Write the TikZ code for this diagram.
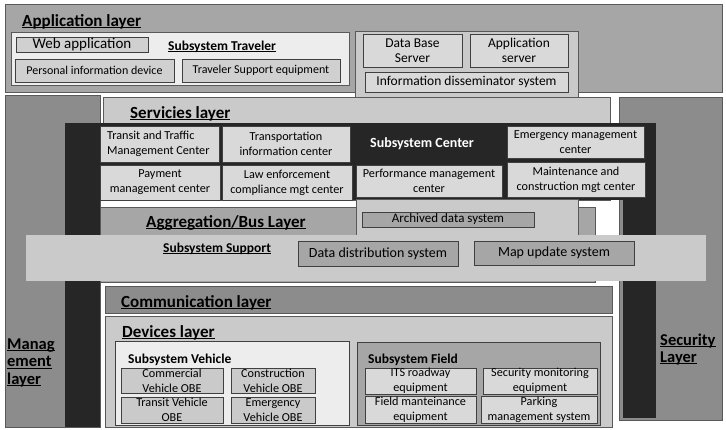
\documentclass[tikz,border=0pt]{standalone}
\usepackage{fontspec}
\setmainfont{Carlito}
\definecolor{gA}{HTML}{A6A6A6}
\definecolor{gM}{HTML}{8C8C8C}
\definecolor{gL}{HTML}{CACACA}
\definecolor{gB}{HTML}{D9D9D9}
\definecolor{gC}{HTML}{D0D0D0}
\definecolor{gW}{HTML}{EDEDED}
\definecolor{gK}{HTML}{262626}
\definecolor{lnA}{HTML}{595959}
\definecolor{lnB}{HTML}{404040}
\newcommand\bx[6]{\node[rbox,#6,anchor=north west,minimum width={#4-#2},minimum height={#5-#3}] (#1) at (#2,#3) {};}
\newcommand\lbl[3]{\node[txt,#2] (#1-t) at (#1.center) {#3};}
\newcommand\ulx[1]{\setbox0\hbox{#1}\rlap{\rule[-0.13em]{\wd0}{0.065em}}\box0}
\begin{document}
\begin{tikzpicture}[x=1pt,y=-1pt,
  rbox/.style={inner sep=0pt,outer sep=0pt,line width=0.7pt},
  txt/.style={inner sep=0pt,align=center,font=\fontsize{12.2}{15}\selectfont},
  ttl/.style={inner sep=0pt,anchor=base west,font=\fontsize{17}{20}\selectfont\bfseries},
  sttl/.style={inner sep=0pt,anchor=base west,font=\fontsize{13.5}{16}\selectfont\bfseries},
  sidettl/.style={inner sep=0pt,anchor=base west,font=\fontsize{16.5}{18}\selectfont\bfseries},
  ibox/.style={fill=gB,draw=lnB},
  obe/.style={fill=gL,draw=lnB}]
\useasboundingbox (0,0) rectangle (726,429);
\fill[white] (0,0) rectangle (726,429);
% Application layer
\bx{app}{5}{4}{722}{92}{fill=gA,draw=lnA}
\node[ttl] (appT) at (22,26) {\ulx{Application layer}};
\bx{trav}{11}{32}{349}{85}{fill=gW,draw=lnA}
\bx{web}{16}{37}{148}{52}{fill=gC,draw=lnB}
\lbl{web}{font=\fontsize{15}{18}\selectfont}{Web application}
\node[sttl] (travT) at (168,50) {\ulx{Subsystem Traveler}};
\bx{pid}{15}{59}{174}{82}{fill=gC,draw=lnB}
\lbl{pid}{font=\fontsize{12}{14}\selectfont}{Personal information device}
\bx{tse}{182}{59}{340}{82}{fill=gC,draw=lnB}
\lbl{tse}{font=\fontsize{12}{14}\selectfont}{Traveler Support equipment}
% Servers
\bx{srv}{355}{31}{578}{97}{fill=gL,draw=lnA}
\bx{dbs}{363}{34}{462}{67}{ibox}
\lbl{dbs}{font=\fontsize{13.5}{15}\selectfont}{Data Base\\Server}
\bx{aps}{470}{34}{568}{67}{ibox}
\lbl{aps}{font=\fontsize{13.5}{15}\selectfont}{Application\\server}
\bx{ids}{365}{72}{568}{92}{ibox}
\lbl{ids}{font=\fontsize{13.5}{15}\selectfont}{Information disseminator system}
% Management and Security
\bx{mgmt}{5}{95}{100}{427}{fill=gM,draw=lnA}
\bx{sec}{619}{97}{722}{420}{fill=gM,draw=lnA}
\node[sidettl] (mg1) at (7,349) {\ulx{Manag}};
\node[sidettl] (mg2) at (7,366.5) {\ulx{ement}};
\node[sidettl] (mg3) at (7,384) {\ulx{layer}};
\node[sidettl] (sc1) at (660,345) {\ulx{Security}};
\node[sidettl] (sc2) at (660,362) {\ulx{Layer}};
% Services layer
\bx{svc}{103}{97}{610}{200}{fill=gL,draw=lnA}
\node[ttl] (svcT) at (130,118) {\ulx{Servicies layer}};
% Aggregation layer
\bx{agg}{100}{207}{595}{282}{fill=gA,draw=lnA}
\node[ttl] (aggT) at (146,227) {\ulx{Aggregation/Bus Layer}};
% Subsystem Center (black)
\bx{blkT}{65}{123}{656}{200}{fill=gK}
\bx{blkL}{65}{123}{100}{427}{fill=gK}
\bx{blkR}{623}{123}{656}{418}{fill=gK}
\bx{arcb}{356}{199}{578}{235}{fill=gL,draw=lnA}
\bx{arc}{362}{212}{534}{227}{fill=gA,draw=lnB}
\lbl{arc}{font=\fontsize{13}{15}\selectfont}{Archived data system}
\bx{ttmc}{100}{126}{219}{162}{ibox}
\node[txt,align=left,anchor=west] (ttmc-t) at ([xshift=7pt]ttmc.west) {Transit and Traffic\\Management Center};
\bx{tic}{222}{126}{350}{162}{ibox}
\lbl{tic}{}{Transportation\\information center}
\bx{pmc}{100}{165}{220}{200}{ibox}
\lbl{pmc}{}{Payment\\management center}
\bx{lecc}{222}{165}{352}{200}{ibox}
\lbl{lecc}{}{Law enforcement\\compliance mgt center}
\node[sttl,font=\fontsize{14}{16}\selectfont\bfseries,text=white] (scT) at (370,147) {Subsystem Center};
\bx{emc}{507}{126}{644}{158}{ibox}
\lbl{emc}{}{Emergency management\\center}
\bx{perf}{356}{165}{502}{197}{ibox}
\lbl{perf}{}{Performance management\\center}
\bx{mcc}{507}{162}{645}{197}{ibox}
\lbl{mcc}{}{Maintenance and\\construction mgt center}
% Subsystem Support band
\bx{sup}{26}{235}{706}{281}{fill=gL}
\node[sttl] (supT) at (163,252) {\ulx{Subsystem Support}};
\bx{dds}{298}{241}{458}{266}{fill=gA,draw=lnB}
\lbl{dds}{font=\fontsize{14}{16}\selectfont}{Data distribution system}
\bx{mus}{474}{241}{634}{265}{fill=gA,draw=lnB}
\lbl{mus}{font=\fontsize{14}{16}\selectfont}{Map update system}
% Communication layer
\bx{com}{105}{286}{612}{313}{fill=gM,draw=lnA}
\node[ttl] (comT) at (121,307) {\ulx{Communication layer}};
% Devices layer
\bx{dev}{105}{316}{612}{427}{fill=gL,draw=lnA}
\node[ttl] (devT) at (122,337) {\ulx{Devices layer}};
\bx{veh}{115}{341}{349}{425}{fill=gW,draw=lnB}
\node[sttl] (vehT) at (128,363) {Subsystem Vehicle};
\bx{cvo}{121}{368}{223}{393}{obe}
\lbl{cvo}{}{Commercial\\Vehicle OBE}
\bx{kvo}{231}{368}{315}{393}{obe}
\lbl{kvo}{}{Construction\\Vehicle OBE}
\bx{tvo}{121}{397}{223}{423}{obe}
\lbl{tvo}{}{Transit Vehicle\\OBE}
\bx{evo}{231}{397}{315}{423}{obe}
\lbl{evo}{}{Emergency\\Vehicle OBE}
\bx{fld}{357}{342}{600}{425}{fill=gA,draw=lnB}
\node[sttl] (fldT) at (368,363) {Subsystem Field};
\bx{its}{365}{368}{476}{394}{ibox}
\lbl{its}{}{ITS roadway\\equipment}
\bx{smo}{483}{368}{597}{394}{ibox}
\lbl{smo}{}{Security monitoring\\equipment}
\bx{fme}{365}{396}{476}{423}{ibox}
\lbl{fme}{}{Field manteinance\\equipment}
\bx{pms}{481}{396}{597}{423}{ibox}
\lbl{pms}{}{Parking\\management system}
\end{tikzpicture}
\end{document}
